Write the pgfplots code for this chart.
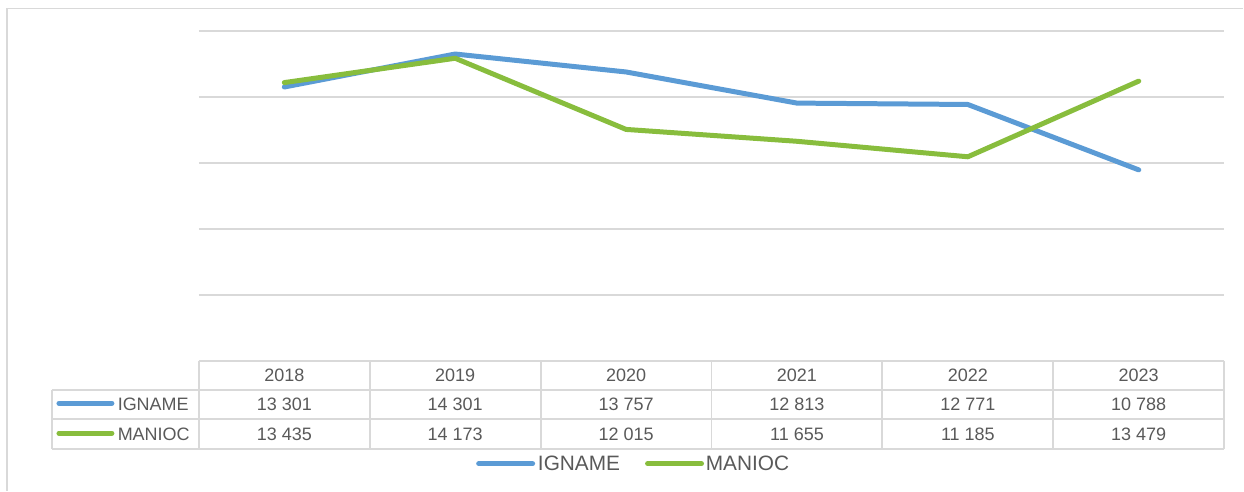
\documentclass[border=0pt]{standalone}
\usepackage{pgfplots}
\pgfplotsset{compat=1.18}
\usepackage{fontspec}
\setmainfont{Liberation Sans}
\definecolor{igname}{HTML}{5B9BD5}
\definecolor{manioc}{HTML}{88BD3D}
\definecolor{gridc}{HTML}{D9D9D9}
\definecolor{txt}{HTML}{595959}
\tikzset{px/.style={x=0.6pt,y=-0.6pt,shift={(-119.4pt,216.6pt)}}}

\begin{document}
\begin{tikzpicture}
\begin{scope}[px]
  \path[use as bounding box] (0,0) rectangle (1244,491);
\end{scope}

\begin{axis}[
    at={(0,0)}, anchor=south west,
    scale only axis,
    width=615.6pt, height=198pt,
    xmin=-0.5, xmax=5.5,
    ymin=5000, ymax=15000,
    ytick={5000,7000,...,15000},
    scaled y ticks=false,
    xtick=\empty,
    yticklabels={},
    major tick length=0pt,
    ymajorgrids,
    grid style={gridc, line width=1pt},
    axis line style={draw=none},
    clip=false,
]
\addplot[igname, line width=3pt, line cap=round, line join=round] coordinates {
    (0,13301) (1,14301) (2,13757) (3,12813) (4,12771) (5,10788)
};
\addplot[manioc, line width=3pt, line cap=round, line join=round] coordinates {
    (0,13435) (1,14173) (2,12015) (3,11655) (4,11185) (5,13479)
};
\end{axis}

\begin{scope}[px]
  % outer frame
  \draw[gridc, line width=1pt] (7,491) -- (7,8.5) -- (1244,8.5);
  % data table
  \begin{scope}[gridc, line width=1.1pt]
    \draw (199,361) -- (1225,361);
    \draw (52,390) -- (1225,390);
    \draw (52,419.5) -- (1225,419.5);
    \draw (52,449) -- (1225,449);
    \draw (52,390) -- (52,449);
    \foreach \x in {199,370,541,712,883,1054,1225}
      \draw (\x,361) -- (\x,449);
  \end{scope}
  \begin{scope}[every node/.style={inner sep=0pt, text=txt, font=\fontsize{10.8}{12}\selectfont}]
    \foreach \x/\yr in {284.5/2018,455.5/2019,626.5/2020,797.5/2021,968.5/2022,1139.5/2023}
      \node at (\x,375.7) {\yr};
    \foreach \x/\v in {284.5/13 301,455.5/14 301,626.5/13 757,797.5/12 813,968.5/12 771,1139.5/10 788}
      \node at (\x,404.3) {\v};
    \foreach \x/\v in {284.5/13 435,455.5/14 173,626.5/12 015,797.5/11 655,968.5/11 185,1139.5/13 479}
      \node at (\x,434.3) {\v};
    \draw[igname, line width=3pt, line cap=round] (59,403.5) -- (112,403.5);
    \node[anchor=west] at (117.5,404.3) {IGNAME};
    \draw[manioc, line width=3pt, line cap=round] (59,433.5) -- (112,433.5);
    \node[anchor=west] at (117.5,434.3) {MANIOC};
  \end{scope}
  % bottom legend
  \begin{scope}[every node/.style={inner sep=0pt, text=txt, font=\fontsize{12.5}{14}\selectfont}]
    \draw[igname, line width=3pt, line cap=round] (479,464) -- (533,464);
    \node[anchor=west] at (538,463.5) {IGNAME};
    \draw[manioc, line width=3pt, line cap=round] (648,464) -- (702,464);
    \node[anchor=west] at (706,463.5) {MANIOC};
  \end{scope}
\end{scope}
\end{tikzpicture}
\end{document}
